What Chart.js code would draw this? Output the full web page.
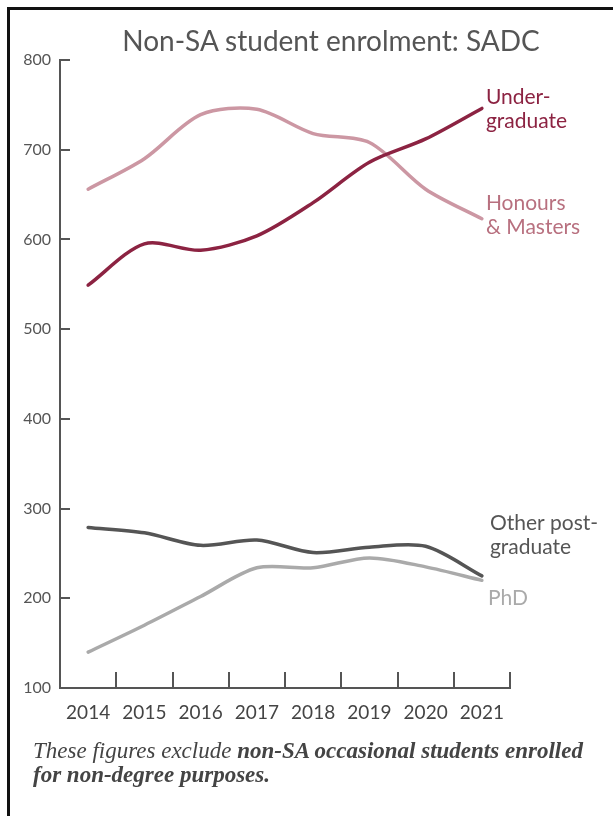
<!DOCTYPE html>
<html>
<head>
<meta charset="utf-8">
<script src="https://cdn.jsdelivr.net/npm/chart.js@4.4.0/dist/chart.umd.min.js"></script>
<style>
  html, body { margin: 0; padding: 0; background: #fff; }
  body { width: 613px; height: 816px; position: relative; overflow: hidden; }
  #frame { position: absolute; left: 7px; top: 7px; width: 700px; height: 900px;
           border-left: 3px solid #111; border-top: 3px solid #111; box-shadow: 0 1px 0 #aaa; }
  #c { position: absolute; left: 0; top: 0; }
  #title { position: absolute; left: 0; width: 662px; top: 23px; text-align: center;
           font-family: Lato, sans-serif; font-size: 28px; color: #555; white-space: nowrap; }
  #note { position: absolute; left: 33px; top: 739px; width: 600px; white-space: nowrap;
          font-family: "Liberation Serif", serif; font-style: italic; font-size: 23px;
          line-height: 24px; color: #444; }
  #note b { font-weight: bold; }
</style>
</head>
<body>
<div id="frame"></div>
<canvas id="c" width="613" height="816"></canvas>
<div id="title">Non-SA student enrolment: SADC</div>
<div id="note">These figures exclude <b>non-SA occasional students enrolled</b><br><b>for non-degree purposes.</b></div>
<script>
const years = ['2014','2015','2016','2017','2018','2019','2020','2021'];
const undergrad = [549, 595, 588, 604, 641, 686, 712, 746];
const honours   = [656, 690, 739, 745, 718, 708, 656, 623];
const otherPG   = [279, 273, 259, 265, 251, 257, 258, 225];
const phd       = [140, 170, 202, 234, 234, 245, 235, 220];
const yTicks    = [100, 200, 300, 400, 500, 600, 700, 800];

const seriesLabels = [
  { lines: ['Under-', 'graduate'], color: '#8C2342', dx: 4, dy: [-11, 13] },
  { lines: ['Honours', '& Masters'], color: '#B8707F', dx: 4, dy: [-16, 8] },
  { lines: ['Other post-', 'graduate'], color: '#555555', dx: 8, dy: [-53, -29] },
  { lines: ['PhD'], color: '#AAAAAA', dx: 6, dy: [18] }
];

const axisMarks = {
  id: 'axisMarks',
  afterDraw(chart) {
    const ctx = chart.ctx;
    const x = chart.scales.x, y = chart.scales.y;
    const a = chart.chartArea;
    ctx.save();
    ctx.strokeStyle = '#555';
    ctx.lineWidth = 2;
    ctx.beginPath();
    yTicks.forEach(v => {
      const py = Math.round(y.getPixelForValue(v));
      ctx.moveTo(a.left, py); ctx.lineTo(a.left + 10, py);
    });
    for (let i = 0; i < years.length; i++) {
      let px;
      if (i < years.length - 1) px = (x.getPixelForValue(i) + x.getPixelForValue(i + 1)) / 2;
      else px = a.right;
      px = Math.round(px);
      ctx.moveTo(px, a.bottom); ctx.lineTo(px, a.bottom - 16);
    }
    ctx.stroke();
    ctx.font = '21px Lato, sans-serif';
    ctx.textBaseline = 'middle';
    ctx.textAlign = 'left';
    chart.data.datasets.forEach((ds, i) => {
      const meta = chart.getDatasetMeta(i);
      const pt = meta.data[meta.data.length - 1];
      const lab = seriesLabels[i];
      ctx.fillStyle = lab.color;
      lab.lines.forEach((t, j) => ctx.fillText(t, pt.x + lab.dx, pt.y + lab.dy[j]));
    });
    ctx.restore();
  }
};

const mk = (data, color, w) => ({
  data, borderColor: color, borderWidth: w, pointRadius: 0, pointHoverRadius: 0,
  tension: 0.3, borderCapStyle: 'round', borderJoinStyle: 'round', fill: false
});

new Chart(document.getElementById('c'), {
  type: 'line',
  data: {
    labels: years,
    datasets: [
      mk(undergrad, '#8C2342', 3.5),
      mk(honours, '#CC97A3', 3.5),
      mk(otherPG, '#555555', 3.5),
      mk(phd, '#AAAAAA', 3.5)
    ]
  },
  options: {
    responsive: false,
    devicePixelRatio: 1,
    animation: false,
    events: [],
    layout: { padding: { left: 0, right: 103, top: 60, bottom: 0 } },
    plugins: { legend: { display: false }, tooltip: { enabled: false }, title: { display: false } },
    scales: {
      x: {
        type: 'category',
        offset: true,
        grid: { display: false, offset: true },
        border: { display: true, color: '#555', width: 2 },
        ticks: { color: '#444', font: { family: 'Lato', size: 19 }, padding: 5, maxRotation: 0, autoSkip: false },
        afterFit: s => { s.height = 128; }
      },
      y: {
        min: 100, max: 800,
        grid: { display: false },
        border: { display: true, color: '#555', width: 2 },
        ticks: { stepSize: 100, color: '#555', font: { family: 'Lato', size: 16 }, padding: 1 },
        afterFit: s => { s.width = 60; }
      }
    }
  },
  plugins: [axisMarks]
});
</script>
</body>
</html>
